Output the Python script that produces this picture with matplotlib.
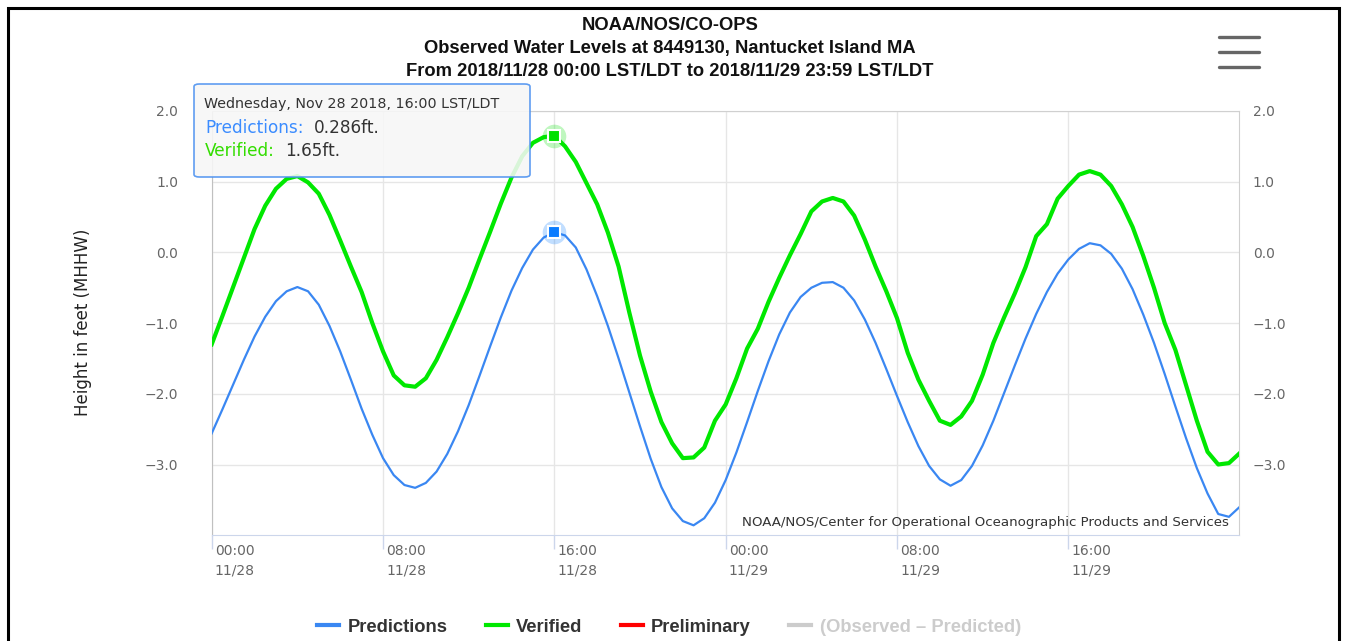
import numpy as np
import pandas as pd
import matplotlib
matplotlib.use("Agg")
import matplotlib.pyplot as plt
import matplotlib.dates as mdates
from matplotlib.lines import Line2D
from matplotlib.patches import Rectangle, FancyBboxPatch
from matplotlib.ticker import FuncFormatter
from matplotlib.transforms import ScaledTranslation

# half-hourly water levels (ft, MHHW), 2018/11/28 00:00 -> 2018/11/30 00:00
times = pd.date_range("2018-11-28 00:00", periods=97, freq="30min")

predictions = [
    -2.56, -2.22, -1.87, -1.52, -1.19, -0.91, -0.69, -0.55,
    -0.49, -0.55, -0.74, -1.04, -1.40, -1.80, -2.21, -2.58,
    -2.91, -3.15, -3.29, -3.33, -3.26, -3.10, -2.85, -2.53,
    -2.16, -1.75, -1.33, -0.92, -0.54, -0.22, 0.04, 0.21,
    0.286, 0.24, 0.07, -0.24, -0.62, -1.04, -1.50, -1.98,
    -2.46, -2.92, -3.32, -3.62, -3.80, -3.86, -3.76, -3.54,
    -3.22, -2.83, -2.40, -1.96, -1.54, -1.16, -0.85, -0.63,
    -0.50, -0.43, -0.42, -0.50, -0.68, -0.95, -1.28, -1.65,
    -2.03, -2.40, -2.74, -3.02, -3.21, -3.30, -3.22, -3.02,
    -2.73, -2.38, -1.99, -1.60, -1.22, -0.87, -0.56, -0.30,
    -0.10, 0.05, 0.13, 0.10, -0.02, -0.23, -0.52, -0.88,
    -1.28, -1.72, -2.18, -2.63, -3.05, -3.41, -3.70, -3.74,
    -3.60,
]

verified = [
    -1.30, -0.90, -0.49, -0.08, 0.33, 0.66, 0.90, 1.04,
    1.08, 0.99, 0.83, 0.53, 0.17, -0.20, -0.56, -1.00,
    -1.40, -1.74, -1.88, -1.90, -1.78, -1.52, -1.20, -0.86,
    -0.50, -0.10, 0.29, 0.69, 1.06, 1.36, 1.55, 1.63,
    1.65, 1.50, 1.28, 0.98, 0.68, 0.28, -0.20, -0.85,
    -1.46, -1.97, -2.40, -2.70, -2.91, -2.90, -2.76, -2.38,
    -2.15, -1.78, -1.36, -1.08, -0.70, -0.36, -0.04, 0.26,
    0.58, 0.72, 0.77, 0.72, 0.52, 0.18, -0.20, -0.55,
    -0.93, -1.42, -1.80, -2.10, -2.38, -2.44, -2.32, -2.10,
    -1.73, -1.28, -0.92, -0.58, -0.21, 0.23, 0.40, 0.76,
    0.94, 1.10, 1.15, 1.10, 0.94, 0.68, 0.36, -0.05,
    -0.50, -1.00, -1.38, -1.88, -2.38, -2.82, -3.00, -2.98,
    -2.84,
]

y_ticks = [-3.0, -2.0, -1.0, 0.0, 1.0, 2.0]

tip_time = pd.Timestamp("2018-11-28 16:00")
tip_pred = 0.286
tip_verified = 1.65

series_names = ["Predictions", "Verified", "Preliminary", "(Observed \u2013 Predicted)"]
series_colors = ["#3a87f2", "#00e800", "#ff0000", "#cccccc"]

W, H = 1346, 641
fig = plt.figure(figsize=(W / 100, H / 100), dpi=100)
ax = fig.add_axes([211.7 / W, 1 - 534.5 / H, (1239.3 - 211.7) / W, (534.5 - 111) / H])

ax.plot(times, predictions, color=series_colors[0], lw=1.6, zorder=3)
ax.plot(times, verified, color=series_colors[1], lw=3.0, zorder=3)

# hovered points
for val, col in [(tip_pred, "#0a7cff"), (tip_verified, "#00e000")]:
    ax.plot([tip_time], [val], "o", ms=17, color=col, alpha=0.25, mec="none", zorder=4)
    ax.plot([tip_time], [val], "s", ms=9, color=col, mec="white", mew=1.5, zorder=5)

ax.set_xlim(pd.Timestamp("2018-11-28 00:00"), pd.Timestamp("2018-11-29 23:59"))
ax.set_ylim(-3.99, 2.0)

ax.xaxis.set_major_locator(mdates.HourLocator(byhour=[0, 8, 16]))
ax.xaxis.set_major_formatter(mdates.DateFormatter("%H:%M\n%m/%d"))
ax.set_yticks(y_ticks)
ax.yaxis.set_major_formatter(FuncFormatter(lambda v, p: f"{v:.1f}".replace("-", "\u2212")))

ax.grid(True, color="#e6e6e6", lw=1, zorder=0)
ax.tick_params(axis="x", length=10, color="#ccd6eb", width=1, labelsize=10,
               labelcolor="#666666", pad=-3)
ax.tick_params(axis="y", length=0, labelsize=10, labelcolor="#666666",
               labelright=True, pad=24)
# right labels closer to the plot
for t in ax.yaxis.get_major_ticks():
    t.label2.set_transform(t.label2.get_transform() + ScaledTranslation(-20 / 100, 0, fig.dpi_scale_trans))
for lab in ax.get_xticklabels():
    lab.set_ha("left")
    lab.set_linespacing(1.5)
    lab.set_transform(lab.get_transform() + ScaledTranslation(3 / 100, 0, fig.dpi_scale_trans))

for side in ["top", "right"]:
    ax.spines[side].set_color("#d0d0d0")
ax.spines["left"].set_color("#c0c0c0")
ax.spines["bottom"].set_color("#ccd6eb")

ax.set_ylabel("Height in feet (MHHW)", fontsize=12, color="#222222", labelpad=38)

ax.text(0.99, 0.012, "NOAA/NOS/Center for Operational Oceanographic Products and Services",
        transform=ax.transAxes, ha="right", va="bottom", fontsize=9.6, color="#333333", zorder=6)

# titles
title_font = ["Liberation Sans Narrow", "Liberation Sans"]
for y, txt in [(26, "NOAA/NOS/CO-OPS"),
               (49, "Observed Water Levels at 8449130, Nantucket Island MA"),
               (72, "From 2018/11/28 00:00 LST/LDT to 2018/11/29 23:59 LST/LDT")]:
    fig.text(670 / W, 1 - y / H, txt, ha="center", va="center", fontsize=13.2,
             fontweight="bold", family=title_font, color="#111111")

# menu icon
for y in [37, 52, 67]:
    fig.add_artist(Line2D([1219 / W, 1259 / W], [1 - y / H, 1 - y / H], color="#666666",
                          lw=2.4, solid_capstyle="round"))

# tooltip
tip = FancyBboxPatch((194 / W, 1 - 177 / H), (530 - 194) / W, (177 - 84) / H,
                     boxstyle="round,pad=0,rounding_size=0.004", transform=fig.transFigure,
                     facecolor="#f7f7f7", alpha=0.88, edgecolor="#4a90f0", lw=1.2, zorder=10)
fig.add_artist(tip)
fig.text(204 / W, 1 - 104 / H, "Wednesday, Nov 28 2018, 16:00 LST/LDT", fontsize=10.3,
         color="#333333", va="center", zorder=11)
fig.text(205 / W, 1 - 128 / H, "Predictions:", fontsize=12.2, color="#3b8cff", va="center", zorder=11)
fig.text(314 / W, 1 - 128 / H, f"{tip_pred:.3f}ft.", fontsize=12.2, color="#333333", va="center", zorder=11)
fig.text(205 / W, 1 - 151 / H, "Verified:", fontsize=12.2, color="#33dd00", va="center", zorder=11)
fig.text(285 / W, 1 - 151 / H, f"{tip_verified:.2f}ft.", fontsize=12.2, color="#333333", va="center", zorder=11)

# legend
handles = [Line2D([], [], color=c, lw=3) for c in series_colors]
leg = fig.legend(handles, series_names, loc="center", bbox_to_anchor=(669 / W, 1 - 627 / H),
                 ncol=4, frameon=False, handlelength=1.2, handletextpad=0.45, columnspacing=2.1,
                 prop={"family": title_font, "weight": "bold", "size": 13.2})
for txt in leg.get_texts():
    txt.set_color("#333333")
leg.get_texts()[-1].set_color("#cccccc")

# outer frame
fig.add_artist(Rectangle((8 / W, -0.05), (1339 - 8) / W, 1.05 - 8 / H, transform=fig.transFigure,
                         fill=False, edgecolor="black", lw=2.2))

fig.savefig("out.png", dpi=100)
